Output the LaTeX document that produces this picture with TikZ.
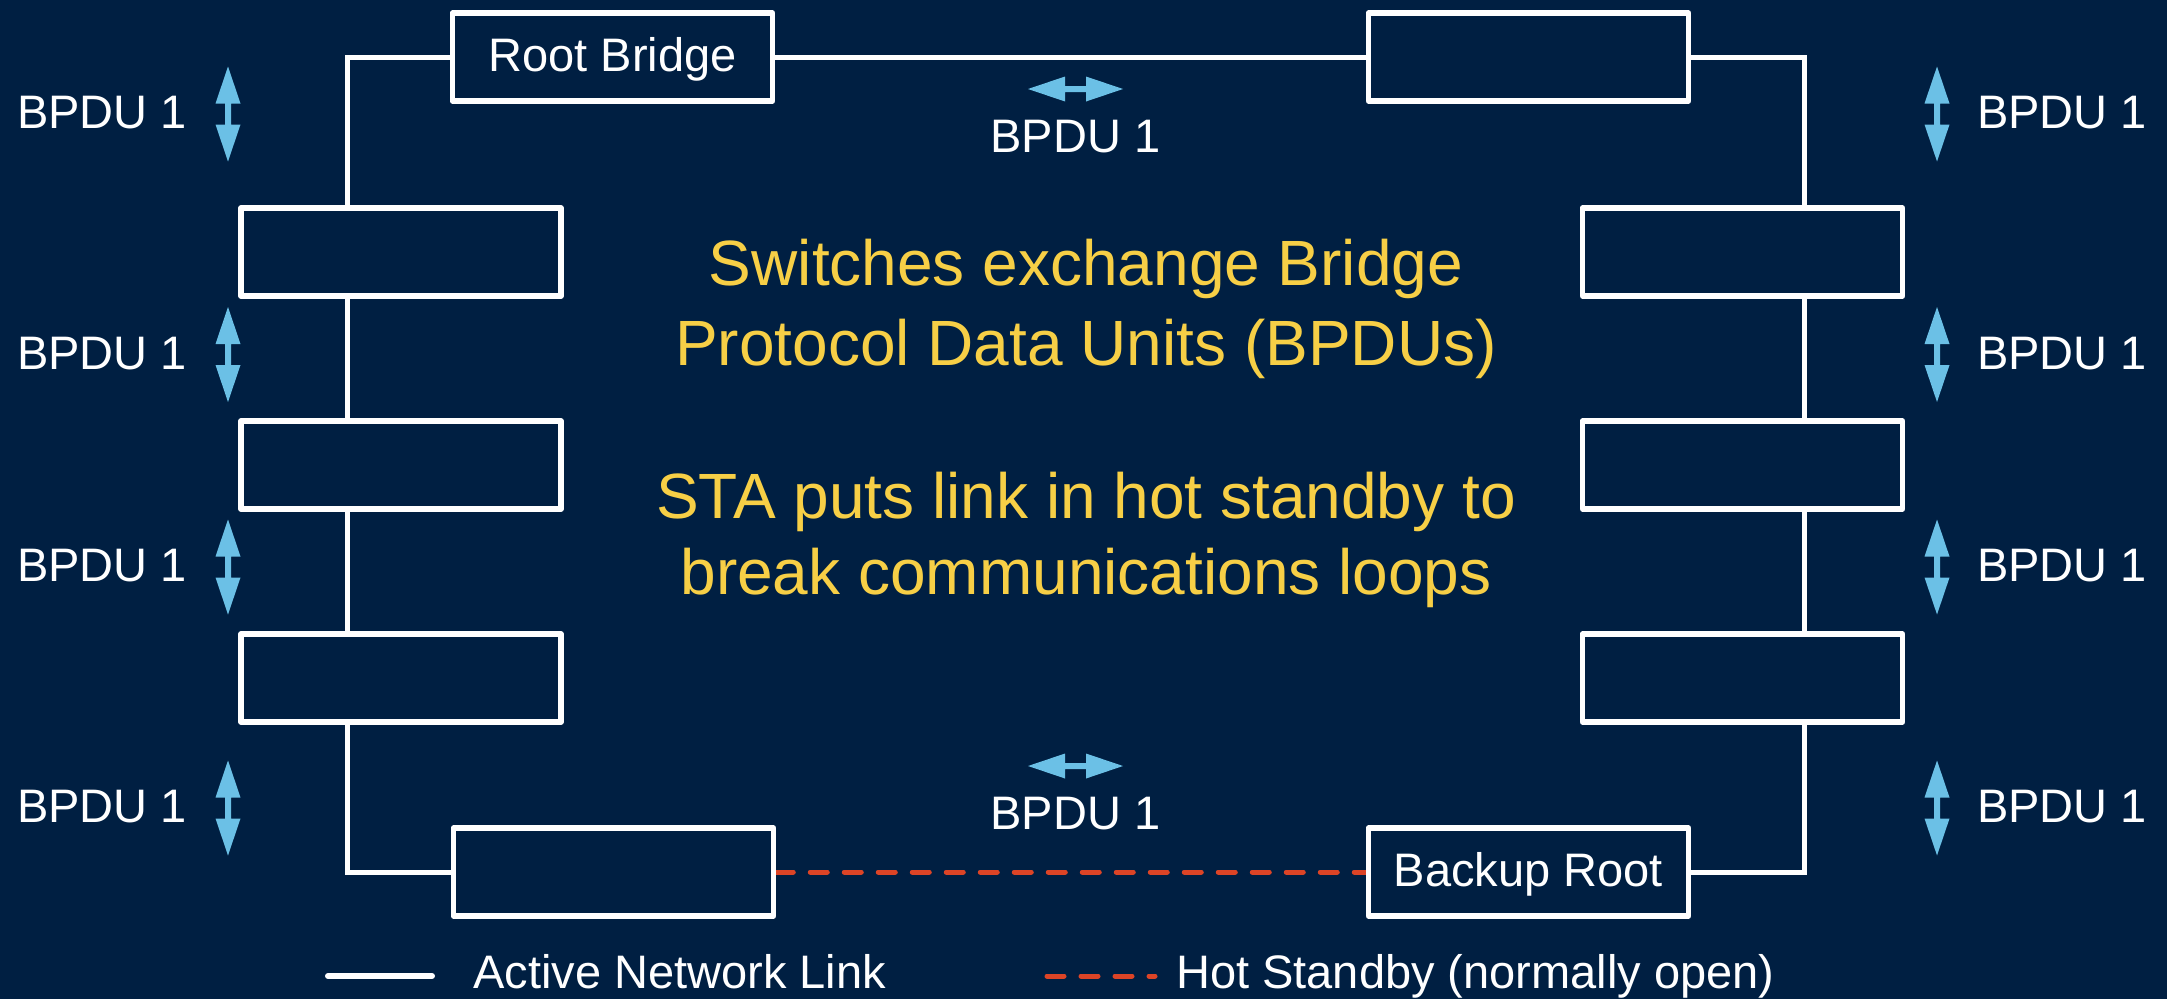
\documentclass[tikz,border=0pt]{standalone}
\usepackage{fontspec}
\setmainfont{Liberation Sans}
\usetikzlibrary{backgrounds}

\definecolor{navybg}{RGB}{0,31,66}
\definecolor{noteyellow}{RGB}{247,207,70}
\definecolor{arrowblue}{RGB}{107,192,230}
\definecolor{standbyred}{RGB}{220,68,38}

\newcommand\lblfnt{\fontsize{47}{56}\selectfont}
\newcommand\notefnt{\fontsize{64}{78}\selectfont}

\tikzset{
  switchbox/.style={draw=white, line width=5.5pt, line join=round,
    minimum width=320pt, minimum height=88pt, inner sep=0pt,
    text=white, font=\lblfnt, text depth=5pt},
  link/.style={draw=white, line width=5pt},
  standby/.style={draw=standbyred, line width=5pt, line cap=round,
    dash pattern=on 17pt off 17pt},
  lbl/.style={text=white, font=\lblfnt, inner sep=0pt},
  note/.style={text=noteyellow, font=\notefnt, inner sep=0pt},
  % two-headed BPDU exchange arrow, drawn vertically about its centre
  bpdu/.pic={
    \fill[arrowblue] (0,-47.5) -- (12.5,-10.5) -- (3,-10.5) -- (3,10.5)
      -- (12.5,10.5) -- (0,47.5) -- (-12.5,10.5) -- (-3,10.5)
      -- (-3,-10.5) -- (-12.5,-10.5) -- cycle;
  }
}

\begin{document}
\begin{tikzpicture}[x=1pt, y=-1pt]
\useasboundingbox (0,0) rectangle (2167,999);

% switches
\node[switchbox] (root) at (612.5,57)   {Root Bridge};
\node[switchbox] (tr)   at (1528.5,57)  {};
\node[switchbox] (l1)   at (401,252)    {};
\node[switchbox] (l2)   at (401,465)    {};
\node[switchbox] (l3)   at (401,678)    {};
\node[switchbox] (r1)   at (1742.5,252) {};
\node[switchbox] (r2)   at (1742.5,465) {};
\node[switchbox] (r3)   at (1742.5,678) {};
\node[switchbox] (bl)   at (613.5,872)  {};
\node[switchbox] (br)   at (1528.5,872) {Backup Root};

% x positions of the two vertical trunks
\coordinate (lx) at (347,0);
\coordinate (rx) at (1804,0);

% legend end points
\coordinate (actA) at (328,976);
\coordinate (actB) at (432,976);
\coordinate (hsA)  at (1047,976);
\coordinate (hsB)  at (1155,976);

\begin{scope}[on background layer]
  \fill[navybg] (0,0) rectangle (2167,999);
  % active links
  \draw[link] (root.west) -| (l1.north -| lx);
  \draw[link] (l1.south -| lx) -- (l2.north -| lx);
  \draw[link] (l2.south -| lx) -- (l3.north -| lx);
  \draw[link] (l3.south -| lx) |- (bl.west);
  \draw[link] (root.east) -- (tr.west);
  \draw[link] (tr.east) -| (r1.north -| rx);
  \draw[link] (r1.south -| rx) -- (r2.north -| rx);
  \draw[link] (r2.south -| rx) -- (r3.north -| rx);
  \draw[link] (r3.south -| rx) |- (br.east);
  % blocked link
  \draw[standby] (bl.east) -- (br.west);
\end{scope}

% BPDU arrows
\pic at (228,114)   {bpdu};
\pic at (228,354.5) {bpdu};
\pic at (228,567)   {bpdu};
\pic at (228,808)   {bpdu};
\pic at (1937,114)   {bpdu};
\pic at (1937,354.5) {bpdu};
\pic at (1937,567)   {bpdu};
\pic at (1937,808)   {bpdu};
\pic[rotate=90] at (1075.5,89)  {bpdu};
\pic[rotate=90] at (1075.5,766) {bpdu};

% BPDU labels
\node[lbl, anchor=base west] (bl1) at (17,128.5) {BPDU 1};
\node[lbl, anchor=base west] (bl2) at (17,369)   {BPDU 1};
\node[lbl, anchor=base west] (bl3) at (17,581.5) {BPDU 1};
\node[lbl, anchor=base west] (bl4) at (17,822.5) {BPDU 1};
\node[lbl, anchor=base west] (br1) at (1977,128.5) {BPDU 1};
\node[lbl, anchor=base west] (br2) at (1977,369)   {BPDU 1};
\node[lbl, anchor=base west] (br3) at (1977,581.5) {BPDU 1};
\node[lbl, anchor=base west] (br4) at (1977,822.5) {BPDU 1};
\node[lbl, anchor=base] (bt) at (1075.5,152) {BPDU 1};
\node[lbl, anchor=base] (bb) at (1075.5,829) {BPDU 1};

% explanatory text
\node[note, anchor=base] (n1) at (1086,285.5) {Switches exchange Bridge};
\node[note, anchor=base] (n2) at (1086,365.5) {Protocol Data Units (BPDUs)};
\node[note, anchor=base] (n3) at (1086,518)   {STA puts link in hot standby to};
\node[note, anchor=base] (n4) at (1086,594)   {break communications loops};

% legend
\draw[link, line width=6pt, line cap=round] (actA) -- (actB);
\node[lbl, anchor=base west] (la) at (473,988) {Active Network Link};
\draw[standby] (hsA) -- (hsB);
\node[lbl, anchor=base west] (lh) at (1176,988) {Hot Standby (normally open)};
\end{tikzpicture}
\end{document}
